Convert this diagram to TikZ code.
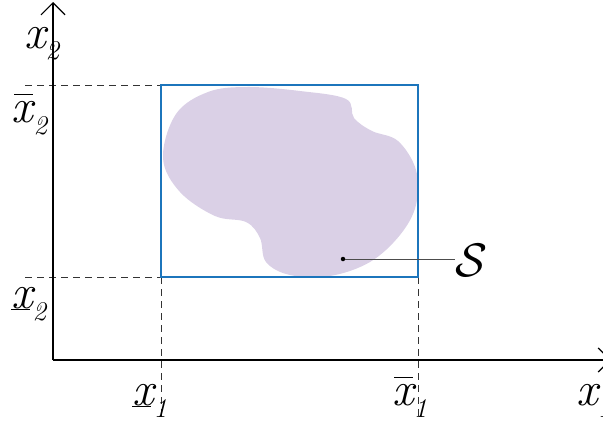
\documentclass[tikz,border=0pt]{standalone}
\usepackage{graphicx}
\usetikzlibrary{arrows.meta}
\definecolor{blobc}{HTML}{DAD0E6}
\definecolor{boxc}{HTML}{1C75BC}
\definecolor{dashc}{HTML}{333333}
\newcommand\bigx{{\fontsize{48}{48}\selectfont\itshape x}}
\newcommand\subx[1]{\raisebox{-12pt}{\fontsize{27}{27}\selectfont\itshape #1}}
\newcommand\xlab[1]{\bigx\kern0pt\subx{#1}}
\newcommand\xbarlab[1]{\rlap{\kern2pt\rule[27pt]{19pt}{0.9pt}}\bigx\kern0pt\subx{#1}}
\newcommand\xunderlab[1]{\rlap{\kern0pt\rule[-2pt]{19pt}{0.9pt}}\bigx\kern0pt\subx{#1}}
\begin{document}
\begin{tikzpicture}[x=1pt,y=-1pt,
  axis/.style={line width=1.2pt,black},
  guide/.style={dashc,line width=0.9pt,dash pattern=on 7pt off 5pt},
  lbl/.style={anchor=base west,inner sep=0pt,outer sep=0pt}]
\useasboundingbox (0,0) rectangle (603,423);
\clip (0,0) rectangle (603,423);
% blob
\fill[blobc] plot[smooth cycle,tension=0.6] coordinates {
 (247,87) (300,91) (346,99) (354,118) (372,131) (398,141) (416,170)
 (416,205) (400,235) (370,262) (330,276) (290,275) (266,262) (260,238)
 (246,222) (215,216) (180,192) (163,158) (176,114) (208,92)};
% coordinates
\coordinate (O) at (53,360);
\coordinate (ytip) at (53,2);
\coordinate (xtip) at (611,360);
\coordinate (A) at (161,277);
\coordinate (B) at (418,277);
\coordinate (C) at (418,85);
\coordinate (D) at (161,85);
\coordinate (hA) at (25,277);
\coordinate (hD) at (25,85);
\coordinate (vA) at (161,419);
\coordinate (vB) at (418,419);
% guides
\draw[guide] (hD) -- (D);
\draw[guide] (hA) -- (A);
\draw[guide] (A) -- (vA);
\draw[guide] (B) -- (vB);
% axes
\draw[axis,-{Straight Barb[length=12pt,width=24pt]}] (O) -- (ytip);
\draw[axis,-{Straight Barb[length=12pt,width=24pt]}] (O) -- (xtip);
% box
\draw[boxc,line width=1.5pt] (A) -- (B) -- (C) -- (D) -- cycle;
% S pointer
\node[circle,fill=black,inner sep=0pt,minimum size=4.5pt] (dot) at (343,259) {};
\node[lbl] (S) at (455,276) {\scalebox{4.7}{$\mathcal{S}$}};
\draw[black!70,line width=1pt] (dot) -- (S.west |- dot);
% labels
\node[lbl] (ly) at (24,48) {\xlab{2}};
\node[lbl] (lybar) at (12,122) {\xbarlab{2}};
\node[lbl] (lyund) at (11,308) {\xunderlab{2}};
\node[lbl] (lxund) at (132,405) {\xunderlab{1}};
\node[lbl] (lxbar) at (392,405) {\xbarlab{1}};
\node[lbl] (lx) at (576,405) {\xlab{1}};
\end{tikzpicture}
\end{document}
